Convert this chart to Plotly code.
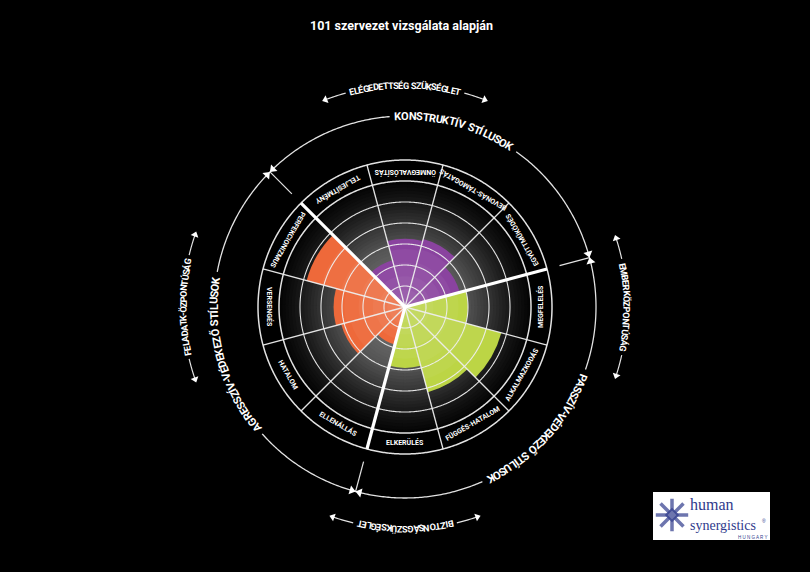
import math
import numpy as np
import plotly.graph_objects as go

# ---------------- data ----------------
clock_order = ["ÖNMEGVALÓSÍTÁS", "BEVONÁS-TÁMOGATÁS", "EGYÜTTMŰKÖDÉS", "MEGFELELÉS",
               "ALKALMAZKODÁS", "FÜGGÉS-HATALOM", "ELKERÜLÉS", "ELLENÁLLÁS",
               "HATALOM", "VERSENGÉS", "PERFEKCIONIZMUS", "TELJESÍTMÉNY"]
constructive_cats = ["TELJESÍTMÉNY", "ÖNMEGVALÓSÍTÁS", "BEVONÁS-TÁMOGATÁS", "EGYÜTTMŰKÖDÉS"]
constructive_vals = [2.3, 3.25, 3.35, 2.7]
passive_cats = ["MEGFELELÉS", "ALKALMAZKODÁS", "FÜGGÉS-HATALOM", "ELKERÜLÉS"]
passive_vals = [3.0, 4.75, 4.2, 2.9]
aggressive_cats = ["ELLENÁLLÁS", "HATALOM", "VERSENGÉS", "PERFEKCIONIZMUS"]
aggressive_vals = [1.85, 3.15, 3.4, 4.85]
ring_ticks = [1, 2, 3, 4, 5]
band_edges = [6, 7]
style_labels = ["KONSTRUKTÍV STÍLUSOK", "PASSZÍV-VÉDEKEZŐ STÍLUSOK", "AGRESSZÍV-VÉDEKEZŐ STÍLUSOK"]
need_labels = ["ELÉGEDETTSÉG SZÜKSÉGLET", "EMBERKÖZPONTÚSÁG", "BIZTONSÁGSZÜKSÉGLET", "FELADATK-ÖZPONTÚSÁG"]
title_text = "101 szervezet vizsgálata alapján"

# ---------------- geometry / style ----------------
W, H = 810, 572
CX, CY = 405, 307
U = 21.0                 # px per radial unit
RP = 240                 # polar radius in px
RMAX = RP / U
FONT_C = "Roboto, Liberation Sans, sans-serif"
PURPLE, GREEN, ORANGE = "#8A439F", "#BCD545", "#EE693A"
LINE = "rgba(238,238,238,0.95)"
NAVY = "#2F3A8C"


def cat_angle(c):
    return 90 - 30 * clock_order.index(c)


def norm(a):
    return ((a + 180) % 360) - 180


def to_paper(a_deg, r_px):
    x = CX + r_px * math.cos(math.radians(a_deg))
    y = CY - r_px * math.sin(math.radians(a_deg))
    return x / W, 1 - y / H


fig = go.Figure()

# radial glow background (decoration): overlapping discs, largest first
stops_px = [0, 40, 60, 80, 100, 115, 126]
stops_g = [118, 100, 86, 58, 30, 14, 3]
edges = np.arange(6.0, 0.0, -0.15)
g_theta, g_r, g_col = [], [], []
for e in edges:
    g = int(round(np.interp((e - 0.075) * U, stops_px, stops_g)))
    col = f"rgb({g},{g},{g})"
    for t in (45, 135, 225, 315):
        g_theta.append(t); g_r.append(e); g_col.append(col)
fig.add_trace(go.Barpolar(theta=g_theta, r=g_r, width=[92] * len(g_theta),
                          marker=dict(color=g_col, line=dict(width=0)),
                          hoverinfo="skip"))

# data wedges
for cats, vals, col in ((constructive_cats, constructive_vals, PURPLE),
                        (passive_cats, passive_vals, GREEN),
                        (aggressive_cats, aggressive_vals, ORANGE)):
    th = [cat_angle(c) for c in cats]
    fig.add_trace(go.Barpolar(theta=th, r=vals, width=[30] * len(th),
                              marker=dict(color=col, line=dict(width=0)),
                              name="", hovertext=cats, hoverinfo="text+r"))
    for f in (0.85, 0.65, 0.45, 0.25):
        fig.add_trace(go.Barpolar(theta=th, r=[v * f for v in vals], width=[30] * len(th),
                                  marker=dict(color="rgba(255,255,255,0.045)", line=dict(width=0)),
                                  hoverinfo="skip"))

# rings
circ = np.linspace(0, 360, 721)
for rr in ring_ticks:
    fig.add_trace(go.Scatterpolar(r=[rr] * len(circ), theta=circ, mode="lines",
                                  line=dict(color=LINE, width=1.1), hoverinfo="skip"))
for rr in band_edges:
    fig.add_trace(go.Scatterpolar(r=[rr] * len(circ), theta=circ, mode="lines",
                                  line=dict(color=LINE, width=1.5), hoverinfo="skip"))

# spokes
bounds = [cat_angle(c) - 15 for c in clock_order]
thick = [cat_angle("EGYÜTTMŰKÖDÉS") - 15, cat_angle("ELKERÜLÉS") - 15, cat_angle("PERFEKCIONIZMUS") - 15]
thin_r, thin_t = [], []
for b in bounds:
    if any(abs(norm(b - t)) < 1 for t in thick):
        continue
    thin_r += [0, 7, None]; thin_t += [b, b, None]
fig.add_trace(go.Scatterpolar(r=thin_r, theta=thin_t, mode="lines",
                              line=dict(color=LINE, width=1.3), hoverinfo="skip"))
tk_r, tk_t = [], []
for b in thick:
    tk_r += [0, 7, None]; tk_t += [b, b, None]
fig.add_trace(go.Scatterpolar(r=tk_r, theta=tk_t, mode="lines",
                              line=dict(color="white", width=3.2), hoverinfo="skip"))

# outer style circle (with gaps for text)
R_STYLE = 191.0
style_spans = [(74.5, 37.0), (-42.6, 43.8), (195.5, 49.0)]
gs = sorted([((c - s / 2 - 1.6) % 360, (c - s / 2 - 1.6) % 360 + s + 3.2) for c, s in style_spans])
arc_r, arc_t = [], []
for i in range(len(gs)):
    a0 = gs[i][1]
    a1 = gs[(i + 1) % len(gs)][0] + (360 if i == len(gs) - 1 else 0)
    tt = np.linspace(a0, a1, int((a1 - a0) * 2) + 2)
    arc_t += list(tt) + [None]; arc_r += [R_STYLE / U] * len(tt) + [None]
fig.add_trace(go.Scatterpolar(r=arc_r, theta=arc_t, mode="lines",
                              line=dict(color=LINE, width=1.3), hoverinfo="skip"))

# markers (ticks + bowties) on style circle at the style boundaries
tick_r, tick_t = [], []
bow_r, bow_t, bow_a = [], [], []
d = math.degrees(4.0 / R_STYLE)
for b in thick:
    tick_r += [160 / U, R_STYLE / U, None]; tick_t += [b, b, None]
    bow_r += [R_STYLE / U, R_STYLE / U]
    bow_t += [b + d, b - d]
    bow_a += [180 - (b + d), -(b - d)]
fig.add_trace(go.Scatterpolar(r=tick_r, theta=tick_t, mode="lines",
                              line=dict(color=LINE, width=1.2), hoverinfo="skip"))
fig.add_trace(go.Scatterpolar(r=bow_r, theta=bow_t, mode="markers",
                              marker=dict(symbol="triangle-up", size=8, color="white", angle=bow_a),
                              hoverinfo="skip"))

# need-label arrows
R_NEED = 222.0
need_spans = [(90, 29.0), (0, 23.0), (-90, 25.0), (180, 25.0)]
ar_r, ar_t, head_r, head_t, head_a = [], [], [], [], []
for c, s in need_spans:
    for sign in (1, -1):
        a0 = c + sign * (s / 2 + 1.0)
        a1 = c + sign * (s / 2 + 6.5)
        tt = np.linspace(a0, a1, 12)
        ar_t += list(tt) + [None]; ar_r += [R_NEED / U] * len(tt) + [None]
        head_t.append(a1); head_r.append(R_NEED / U)
        head_a.append(-a1 if sign > 0 else 180 - a1)
fig.add_trace(go.Scatterpolar(r=ar_r, theta=ar_t, mode="lines",
                              line=dict(color=LINE, width=1.2), hoverinfo="skip"))
fig.add_trace(go.Scatterpolar(r=head_r, theta=head_t, mode="markers",
                              marker=dict(symbol="triangle-up", size=7, color="white", angle=head_a),
                              hoverinfo="skip"))

# logo icon (pixel-space helper axes)
fig.add_trace(go.Scatter(x=[672, 672], y=[515, 515], mode="markers", xaxis="x", yaxis="y",
                         marker=dict(symbol=["asterisk-open", "diamond-open"], size=[27, 9],
                                     color=NAVY, line=dict(color=NAVY, width=[3.5, 2])),
                         hoverinfo="skip"))

# ---------------- text ----------------
WID = {'A': .66, 'B': .63, 'C': .65, 'D': .65, 'E': .57, 'F': .55, 'G': .68, 'H': .71, 'I': .30,
       'J': .55, 'K': .63, 'L': .54, 'M': .87, 'N': .71, 'O': .69, 'P': .63, 'Q': .69, 'R': .62,
       'S': .61, 'T': .61, 'U': .65, 'V': .64, 'W': .87, 'X': .63, 'Y': .60, 'Z': .61, ' ': .30,
       '-': .34, 'Í': .30, 'É': .57, 'Á': .66, 'Ó': .69, 'Ö': .69, 'Ő': .69, 'Ú': .65, 'Ü': .65,
       'Ű': .65}
annotations = []


def curved(text, center, r_px, span, size):
    ws = [WID.get(ch, .62) for ch in text]
    tot = sum(ws)
    start = center + span / 2
    cum = 0.0
    for ch, w in zip(text, ws):
        a = start - span * (cum + w / 2) / tot
        cum += w
        if ch == " ":
            continue
        x, y = to_paper(a, r_px)
        annotations.append(dict(x=x, y=y, xref="paper", yref="paper", text=ch, showarrow=False,
                                textangle=norm(90 - a), xanchor="center", yanchor="middle",
                                font=dict(family=FONT_C, size=size, color="white", weight="bold")))


for txt, (c, s) in zip(style_labels, style_spans):
    curved(txt, c, R_STYLE, s, 11)
for txt, (c, s) in zip(need_labels, need_spans):
    curved(txt, c, R_NEED, s, 9.2)

# sector labels in the band
for c in clock_order:
    a = cat_angle(c)
    x, y = to_paper(a, 135)
    annotations.append(dict(x=x, y=y, xref="paper", yref="paper", text=c, showarrow=False,
                            textangle=norm(-(a + 90)), xanchor="center", yanchor="middle",
                            font=dict(family=FONT_C, size=7.0, color="white", weight="bold")))

# title
annotations.append(dict(x=401 / W, y=1 - 26 / H, xref="paper", yref="paper", text=title_text,
                        showarrow=False, xanchor="center", yanchor="middle",
                        font=dict(family=FONT_C, size=12.5, color="white", weight="bold")))

# logo text
annotations += [
    dict(x=688 / W, y=1 - 504 / H, xref="paper", yref="paper", text="human", showarrow=False,
         xanchor="left", yanchor="middle", font=dict(family="Liberation Serif, DejaVu Serif", size=16, color=NAVY)),
    dict(x=688 / W, y=1 - 525 / H, xref="paper", yref="paper", text="synergistics", showarrow=False,
         xanchor="left", yanchor="middle", font=dict(family="Liberation Serif, DejaVu Serif", size=14, color=NAVY)),
    dict(x=764 / W, y=1 - 521 / H, xref="paper", yref="paper", text="®", showarrow=False,
         xanchor="center", yanchor="middle", font=dict(family="Liberation Sans", size=5, color=NAVY)),
    dict(x=752 / W, y=1 - 537 / H, xref="paper", yref="paper", text="H U N G A R Y", showarrow=False,
         xanchor="center", yanchor="middle", font=dict(family="Liberation Sans", size=4.5, color=NAVY)),
]

fig.update_layout(
    width=W, height=H, margin=dict(l=0, r=0, t=0, b=0),
    paper_bgcolor="black", plot_bgcolor="rgba(0,0,0,0)", showlegend=False,
    xaxis=dict(range=[0, W], visible=False, fixedrange=True, domain=[0, 1]),
    yaxis=dict(range=[H, 0], visible=False, fixedrange=True, domain=[0, 1]),
    polar=dict(
        domain=dict(x=[(CX - RP) / W, (CX + RP) / W], y=[1 - (CY + RP) / H, 1 - (CY - RP) / H]),
        bgcolor="black",
        radialaxis=dict(range=[0, RMAX], visible=False, showgrid=False),
        angularaxis=dict(rotation=0, direction="counterclockwise", showgrid=False, showline=False,
                         showticklabels=False, ticks=""),
        barmode="overlay",
    ),
    shapes=[dict(type="rect", xref="paper", yref="paper", x0=653 / W, x1=770 / W,
                 y0=1 - 540 / H, y1=1 - 492 / H, fillcolor="white", line=dict(width=0), layer="below")],
    annotations=annotations,
)

fig.write_html(
    "out.html",
    config={"displayModeBar": False},
    post_script="document.body.style.margin='0';document.body.style.overflow='hidden';"
                "document.body.style.background='black';",
)
